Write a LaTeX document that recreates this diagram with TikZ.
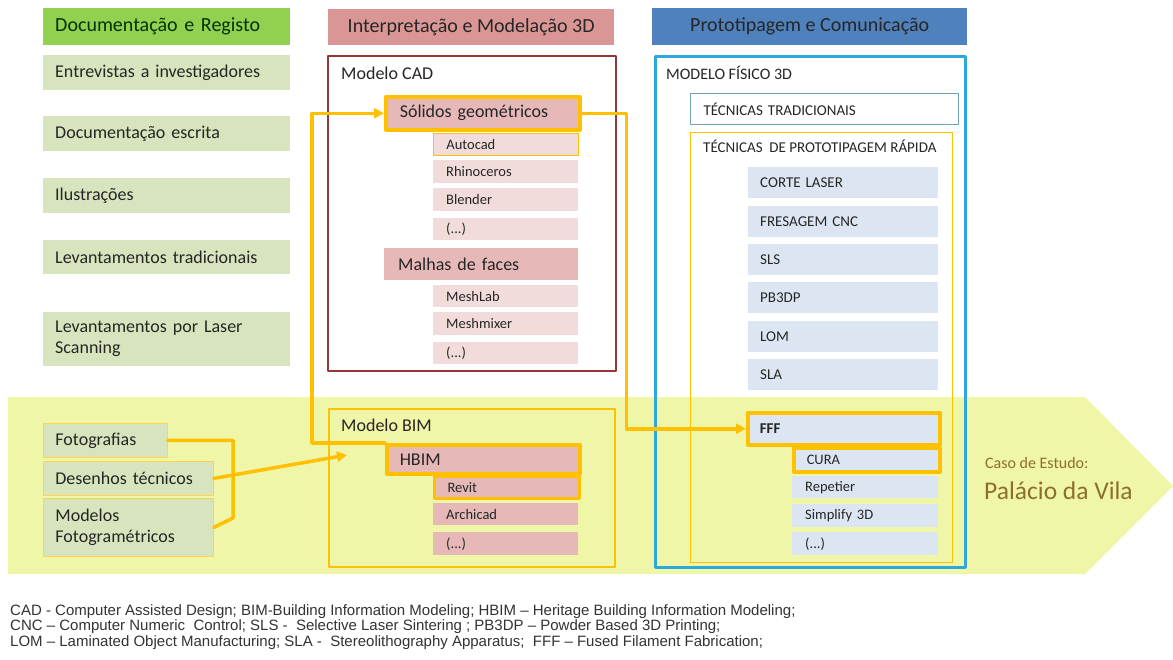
\documentclass[tikz,border=0pt]{standalone}
\usepackage{fontspec}
\setmainfont{Carlito}
\newfontfamily\notefont{Liberation Sans}
\usepackage{xcolor}
\usetikzlibrary{arrows}
\usetikzlibrary{arrows.meta,positioning}

\definecolor{docgreen}{HTML}{92D050}
\definecolor{docitem}{HTML}{D7E4BD}
\definecolor{modrose}{HTML}{D99694}
\definecolor{modpink}{HTML}{E6B9B8}
\definecolor{modlight}{HTML}{F2DCDB}
\definecolor{cadred}{HTML}{953735}
\definecolor{protblue}{HTML}{4F81BD}
\definecolor{protitem}{HTML}{DCE6F2}
\definecolor{fisicocyan}{HTML}{2CA8DC}
\definecolor{tradframe}{HTML}{6FA3B3}
\definecolor{linkorange}{HTML}{FFC000}
\definecolor{bandyellow}{RGB}{240,246,168}
\definecolor{casebrown}{HTML}{8B6F2A}
\definecolor{notegray}{HTML}{333333}

\tikzset{
  cell/.style={anchor=north west, inner ysep=0pt, align=left, text=black!85},
  headtxt/.style={font=\fontsize{20}{24}\selectfont},
  bigtxt/.style={font=\fontsize{18}{21}\selectfont},
  smalltxt/.style={font=\fontsize{14.5}{17}\selectfont},
  capstxt/.style={font=\fontsize{15}{18}\selectfont},
  docbox/.style={cell, bigtxt, fill=docitem, inner xsep=12pt, text width=223pt},
  bandbox/.style={cell, bigtxt, fill=docitem, draw=linkorange!70, line width=0.8pt, inner xsep=12pt},
  soft/.style={cell, smalltxt, fill=modlight, inner xsep=13pt, text width=119pt, minimum height=22pt},
  bimsoft/.style={soft, fill=modpink},
  group/.style={cell, bigtxt, fill=modpink, inner xsep=14pt, text width=166pt},
  proto/.style={cell, capstxt, fill=protitem, inner xsep=12pt, text width=166pt, minimum height=31pt},
  sub/.style={cell, smalltxt, fill=protitem, inner xsep=13pt, text width=120pt, minimum height=23pt},
  frame/.style={anchor=north west, inner sep=0pt},
  hot/.style={draw=linkorange, line width=3.5pt},
  link/.style={draw=linkorange, line width=3.5pt},
  title/.style={anchor=west, inner sep=0pt, text=black!85}
}

\begin{document}
\begin{tikzpicture}[line cap=round,line join=round,>={Triangle[length=10pt,width=10pt]},x=1pt,y=-1pt]
  \useasboundingbox[fill=white] (0,0) rectangle (1173,659);
  \fill[bandyellow] (8,397) -- (1085,397) -- (1173,486) -- (1085,574) -- (8,574) -- cycle;

  \node[cell, headtxt, fill=docgreen, inner xsep=12pt, text width=223pt, minimum height=37pt, text=black!80!green] (dochead) at (43,8) {Documentação e Registo};
  \node[docbox, minimum height=35pt] (entrevistas) at (43,55) {Entrevistas a investigadores};
  \node[docbox, minimum height=35pt] (escrita) at (43,116) {Documentação escrita};
  \node[docbox, minimum height=35pt] (ilustracoes) at (43,178) {Ilustrações};
  \node[docbox, minimum height=34pt] (tradicionais) at (43,240) {Levantamentos tradicionais};
  \node[docbox, minimum height=54pt] (laser) at (43,312) {Levantamentos por Laser\\Scanning};

  \node[bandbox, text width=100pt, minimum height=34pt] (foto) at (43,423) {Fotografias};
  \node[bandbox, text width=146pt, minimum height=34pt] (desenhos) at (43,461) {Desenhos técnicos};
  \node[bandbox, text width=146pt, minimum height=58pt] (fotogram) at (43,498) {Modelos\\Fotogramétricos};

  \node[cell, headtxt, fill=modrose, minimum width=286pt, minimum height=36pt, align=center] (modhead) at (328,9) {Interpretação e Modelação 3D};
  \node[frame, draw=cadred, line width=1.5pt, minimum width=288pt, minimum height=315pt] (cad) at (327,55) {};
  \node[title, bigtxt] (cadtitle) at (341,73) {Modelo CAD};
  \node[group, hot, minimum height=33pt] (solidos) at (384,95) {Sólidos geométricos};
  \node[soft, draw=linkorange, line width=0.8pt] (autocad) at (433,133) {Autocad};
  \node[soft, minimum height=23pt] (rhino) at (433,160) {Rhinoceros};
  \node[soft, minimum height=23pt] (blender) at (433,188) {Blender};
  \node[soft] (cadetc) at (433,218) {(...)};
  \node[group, minimum height=32pt] (malhas) at (384,248) {Malhas de faces};
  \node[soft] (meshlab) at (433,285) {MeshLab};
  \node[soft, minimum height=23pt] (meshmixer) at (433,312) {Meshmixer};
  \node[soft] (malhasetc) at (433,342) {(...)};

  \node[frame, draw=linkorange, line width=2pt, minimum width=286pt, minimum height=158pt] (bim) at (328,408) {};
  \node[title, bigtxt] (bimtitle) at (341,425) {Modelo BIM};
  \node[group, hot, inner xsep=13pt, text width=167pt, minimum height=29pt] (hbim) at (385,443) {HBIM};
  \node[bimsoft, draw=linkorange, line width=3pt] (revit) at (433,475) {Revit};
  \node[bimsoft] (archicad) at (433,503) {Archicad};
  \node[bimsoft, minimum height=23pt] (bimetc) at (433,532) {(...)};

  \node[cell, headtxt, fill=protblue, minimum width=315pt, minimum height=37pt, align=center] (prothead) at (652,8) {Prototipagem e Comunicação};
  \node[frame, draw=fisicocyan, line width=2.5pt, minimum width=310pt, minimum height=511pt] (fisico) at (654,55) {};
  \node[title, font=\fontsize{16}{19}\selectfont] (fisicotitle) at (666,73) {MODELO FÍSICO 3D};
  \node[cell, capstxt, draw=tradframe, line width=1pt, fill=white, inner xsep=13pt, text width=242pt, minimum height=31pt] (tradic) at (690,93) {TÉCNICAS TRADICIONAIS};
  \node[frame, draw=linkorange, line width=1pt, minimum width=262pt, minimum height=430pt] (rapida) at (690,132) {};
  \node[title, capstxt] (rapidatitle) at (703,146) {TÉCNICAS\ \ DE PROTOTIPAGEM RÁPIDA};
  \node[proto] (corte) at (748,167) {CORTE LASER};
  \node[proto] (fresagem) at (748,206) {FRESAGEM CNC};
  \node[proto] (sls) at (748,244) {SLS};
  \node[proto] (pb3dp) at (748,282) {PB3DP};
  \node[proto] (lom) at (748,321) {LOM};
  \node[proto] (sla) at (748,359) {SLA};
  \node[proto, hot, text width=168pt, minimum height=32pt] (fff) at (746,411) {\textbf{FFF}};
  \node[sub, hot, minimum height=24pt] (cura) at (792,446) {CURA};
  \node[sub, minimum height=22pt] (repetier) at (792,476) {Repetier};
  \node[sub] (simplify) at (792,504) {Simplify 3D};
  \node[sub] (fffetc) at (792,532) {(...)};

  \node[title, text=casebrown, font=\fontsize{16}{19}\selectfont] (caso) at (985,463) {Caso de Estudo:};
  \node[title, text=casebrown, font=\fontsize{25.5}{30}\selectfont] (palacio) at (984,491) {Palácio da Vila};

  \coordinate (brk) at (233,518);
  \coordinate (bimin) at (347,455);
  \draw[link] (foto.east) -| (brk) -- (fotogram.east);
  \draw[link,->] (desenhos.east) -- (bimin);
  \draw[link,->] (hbim.north west) -- ++(-73,0) |- (solidos.west);
  \draw[link,->] (solidos.east) -- ++(45,0) |- (fff.west);

  \node[anchor=north west, inner sep=0pt, align=left, text=notegray, font=\notefont\fontsize{15}{15.5}\selectfont] (notes) at (10,604)
    {CAD - Computer Assisted Design; BIM-Building Information Modeling; HBIM – Heritage Building Information Modeling;\\
     CNC – Computer Numeric\ \ Control; SLS -\ \ Selective Laser Sintering ; PB3DP – Powder Based 3D Printing;\\
     LOM – Laminated Object Manufacturing; SLA -\ \ Stereolithography Apparatus;\ \ FFF – Fused Filament Fabrication;};
\end{tikzpicture}
\end{document}
